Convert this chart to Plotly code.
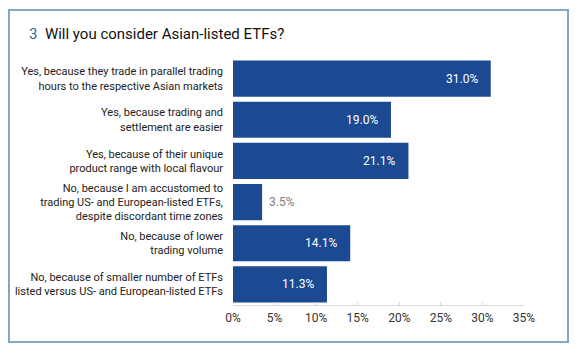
import plotly.graph_objects as go

categories = [
    "Yes, because they trade in parallel trading<br>hours to the respective Asian markets",
    "Yes, because trading and<br>settlement are easier",
    "Yes, because of their unique<br>product range with local flavour",
    "No, because I am accustomed to<br>trading US- and European-listed ETFs,<br>despite discordant time zones",
    "No, because of lower<br>trading volume",
    "No, because of smaller number of ETFs<br>listed versus US- and European-listed ETFs",
]
values = [31.0, 19.0, 21.1, 3.5, 14.1, 11.3]
tick_vals = [0, 5, 10, 15, 20, 25, 30, 35]
tick_text = ["0%", "5%", "10%", "15%", "20%", "25%", "30%", "35%"]

# the page body has an 8px default margin, so the figure is 8px smaller
OFF = 8
W, H = 580 - OFF, 358 - OFF
L, R, T, B = 233 - OFF, 56, 58 - OFF, 358 - 305
PW, PH = W - L - R, H - T - B


def px_x(px):
    """page pixel x -> paper fraction"""
    return (px - OFF - L) / PW


def px_y(py):
    """page pixel y -> paper fraction"""
    return 1 - (py - OFF - T) / PH


BAR = "#1b4a92"
FONT = "Roboto"

fig = go.Figure()
fig.add_trace(go.Bar(
    y=categories, x=values, orientation="h",
    marker=dict(color=BAR, line=dict(width=0)),
    hoverinfo="skip",
))

annotations = []
for c, v in zip(categories, values):
    inside = v > 6
    annotations.append(dict(
        x=v, y=c, xref="x", yref="y",
        text=f"{v:.1f}%",
        showarrow=False,
        xanchor="right" if inside else "left",
        xshift=-11 if inside else 5,
        font=dict(family=FONT, size=12, color="white" if inside else "#808080"),
    ))

annotations.append(dict(
    x=px_x(27), y=px_y(34), xref="paper", yref="paper",
    xanchor="left", yanchor="middle", showarrow=False,
    text="<span style='color:#2a6a9a'>3</span>  Will you consider Asian-listed ETFs?",
    font=dict(family=FONT, size=15, color="#111111"),
))

fig.update_layout(
    width=W, height=H,
    margin=dict(l=L, r=R, t=T, b=B, autoexpand=False),
    paper_bgcolor="white", plot_bgcolor="white",
    bargap=0.12,
    showlegend=False,
    font=dict(family=FONT, size=11, color="#333333"),
    annotations=annotations,
    shapes=[dict(
        type="rect", xref="paper", yref="paper",
        x0=px_x(9), x1=px_x(568), y0=px_y(342), y1=px_y(10),
        line=dict(color="#86a7c2", width=2), fillcolor="rgba(0,0,0,0)",
        layer="below",
    )],
    xaxis=dict(
        range=[0, 35], tickvals=tick_vals, ticktext=tick_text,
        showgrid=False, zeroline=False,
        showline=True, linecolor="#d9d9d9", linewidth=1,
        ticks="inside", ticklen=3, tickcolor="#d9d9d9",
        ticklabelstandoff=2,
        tickfont=dict(family=FONT, size=12, color="#333333"),
        fixedrange=True,
    ),
    yaxis=dict(
        autorange="reversed", showgrid=False, zeroline=False,
        showline=False, ticks="", ticklabelstandoff=9,
        tickfont=dict(family=FONT, size=11, color="#222222"),
        fixedrange=True,
    ),
)

fig.write_html("out.html")
